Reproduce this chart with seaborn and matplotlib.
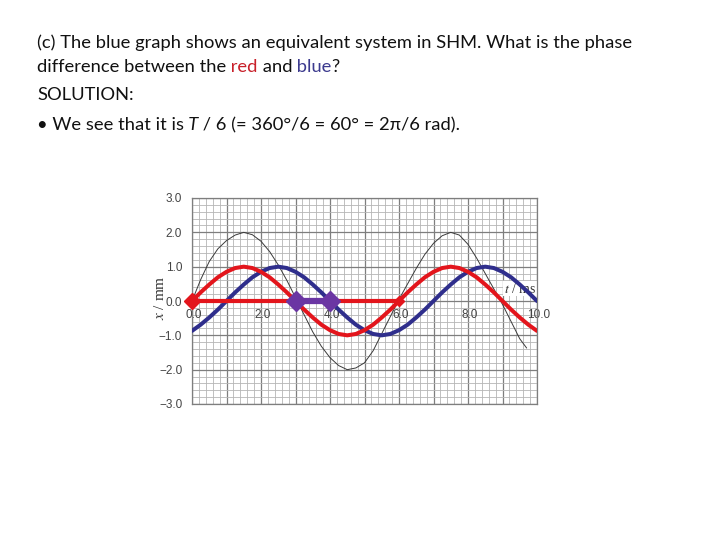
import matplotlib.pyplot as plt
import seaborn as sns

# time axis (ms) and displacements (mm)
t = [0.0, 0.25, 0.5, 0.75, 1.0, 1.25, 1.5, 1.75, 2.0, 2.25, 2.5, 2.75,
     3.0, 3.25, 3.5, 3.75, 4.0, 4.25, 4.5, 4.75, 5.0, 5.25, 5.5, 5.75,
     6.0, 6.25, 6.5, 6.75, 7.0, 7.25, 7.5, 7.75, 8.0, 8.25, 8.5, 8.75,
     9.0, 9.25, 9.5, 9.75, 10.0]
x_red = [0.0, 0.25, 0.48, 0.69, 0.85, 0.96, 1.0, 0.96, 0.85, 0.69, 0.48, 0.25,
         0.0, -0.25, -0.48, -0.69, -0.85, -0.96, -1.0, -0.96, -0.85, -0.69, -0.48, -0.25,
         0.0, 0.25, 0.48, 0.69, 0.85, 0.96, 1.0, 0.96, 0.85, 0.69, 0.48, 0.25,
         0.0, -0.25, -0.48, -0.69, -0.87]
x_blue = [-0.87, -0.69, -0.48, -0.25, 0.0, 0.25, 0.48, 0.69, 0.85, 0.96, 1.0, 0.96,
          0.85, 0.69, 0.48, 0.25, 0.0, -0.25, -0.48, -0.69, -0.85, -0.96, -1.0, -0.96,
          -0.85, -0.69, -0.48, -0.25, 0.0, 0.25, 0.48, 0.69, 0.85, 0.96, 1.0, 0.96,
          0.85, 0.69, 0.48, 0.25, 0.0]
t_black = [0.0, 0.25, 0.5, 0.75, 1.0, 1.25, 1.5, 1.75, 2.0, 2.25, 2.5, 2.75,
           3.0, 3.25, 3.5, 3.75, 4.0, 4.25, 4.5, 4.75, 5.0, 5.25, 5.5, 5.75,
           6.0, 6.25, 6.5, 6.75, 7.0, 7.25, 7.5, 7.75, 8.0, 8.25, 8.5, 8.75,
           9.0, 9.25, 9.5, 9.7]
x_black = [0.0, 0.62, 1.15, 1.52, 1.76, 1.92, 2.0, 1.93, 1.74, 1.44, 1.05, 0.6,
           0.1, -0.4, -0.9, -1.32, -1.65, -1.88, -2.0, -1.95, -1.8, -1.45, -0.95, -0.45,
           0.05, 0.5, 0.95, 1.36, 1.68, 1.9, 2.0, 1.92, 1.65, 1.25, 0.8, 0.35,
           -0.1, -0.6, -1.1, -1.37]

t_period = [0.0, 6.0]   # one period T of the red graph
t_shift = [3.0, 4.0]    # shift between red and blue
zero2 = [0.0, 0.0]

xtick_vals = [0, 2, 4, 6, 8, 10]
xtick_labels = ['0.0', '2.0', '4.0', '6.0', '8.0', '10.0']
ytick_vals = [3, 2, 1, 0, -1, -2, -3]
ytick_labels = ['3.0', '2.0', '1.0', '0.0', '\u22121.0', '\u22122.0', '\u22123.0']

RED = '#e3151c'
BLUE = '#2f2e8c'
PURPLE = '#6b36a3'

sns.set_style('white')
plt.rcParams['font.family'] = ['Lato', 'DejaVu Sans']
plt.rcParams['mathtext.fontset'] = 'stix'

fig = plt.figure(figsize=(7.2, 5.4), dpi=100)
ax = fig.add_axes([192 / 720, 1 - 404 / 540, 345 / 720, 206 / 540])


# ---- slide text, pieces chained left to right on one baseline ----
def line(pieces, x0, base):
    y = 1 - base / 540
    prev = None
    for s, kw in pieces:
        opts = dict(fontsize=13.25, color='#111111', va='baseline', ha='left')
        opts.update(kw)
        if prev is None:
            prev = fig.text(x0 / 720, y, s, **opts)
        else:
            prev = ax.annotate(s, xy=(1, y), xycoords=(prev, 'figure fraction'),
                               annotation_clip=False, **opts)


line([('(c) The blue graph shows an equivalent system in SHM. What is the phase', {})], 37, 48)
line([('difference between the', {}), (' red', dict(color='#c8202a')),
      (' and', {}), (' blue', dict(color='#3c3a8e')), ('?', {})], 37, 72)
line([('SOLUTION:', {})], 37, 100)
line([('\u2022 We see that it is', {}), (' T', dict(style='italic')),
      (' / 6 (= 360\u00b0/6 = 60\u00b0 = 2\u03c0/6 rad).', {})], 37, 130)

# ---- graph ----
sns.lineplot(x=t_black, y=x_black, ax=ax, color='#3a3a3a', lw=0.7, sort=False, zorder=3)
sns.lineplot(x=t, y=x_blue, ax=ax, color=BLUE, lw=2.9, sort=False, zorder=4)
sns.lineplot(x=t, y=x_red, ax=ax, color=RED, lw=2.9, sort=False, zorder=5)
sns.lineplot(x=t_period, y=zero2, ax=ax, color=RED, lw=3.0, sort=False, zorder=6)
ax.plot(t_period[:1], zero2[:1], marker='D', ms=8, color=RED, zorder=6, clip_on=False)
ax.plot(t_period[1:], zero2[1:], marker='D', ms=5, color=RED, zorder=6)
sns.lineplot(x=t_shift, y=zero2, ax=ax, color=PURPLE, lw=4.5, sort=False, zorder=7)
ax.plot(t_shift, zero2, 'D', ms=10, color=PURPLE, zorder=7)

ax.set_xlim(0, 10)
ax.set_ylim(-3, 3)
ax.set_xticks(range(0, 11))
ax.set_xticks([i * 0.2 for i in range(51)], minor=True)
ax.set_xticklabels([])
ax.set_yticks(ytick_vals)
ax.set_yticklabels(ytick_labels)
ax.set_yticks([i * 0.2 - 3 for i in range(31)], minor=True)
ax.grid(which='minor', color='#b6b6b6', lw=0.6)
ax.grid(which='major', color='#7e7e7e', lw=0.9)
ax.set_axisbelow(True)
ax.tick_params(axis='x', which='both', length=0)
ax.tick_params(axis='y', which='minor', length=0)
ax.tick_params(axis='y', which='major', length=5, width=0.8, color='#7e7e7e',
               labelsize=8.5, labelcolor='#444444', pad=2)
for lab in ax.get_yticklabels():
    lab.set_family('Liberation Sans')
for sp in ax.spines.values():
    sp.set_color('#7e7e7e')
    sp.set_linewidth(0.9)

for v, s in zip(xtick_vals, xtick_labels):
    ax.text(v + 0.05, -0.42, s, ha='center', va='center', fontsize=8.5,
            color='#444444', family='Liberation Sans', zorder=2)

ax.text(-0.93, 0.1, '$x$ / mm', rotation=90, ha='center', va='center',
        fontsize=11, family='Liberation Serif', color='#333333', clip_on=False)
ax.text(9.5, 0.36, '$t$ / ms', ha='center', va='center', fontsize=10,
        family='Liberation Serif', color='#333333', zorder=2,
        bbox=dict(facecolor='white', edgecolor='none', pad=0.5))
ax.set_xlabel('')
ax.set_ylabel('')

fig.savefig('out.png', dpi=100)
